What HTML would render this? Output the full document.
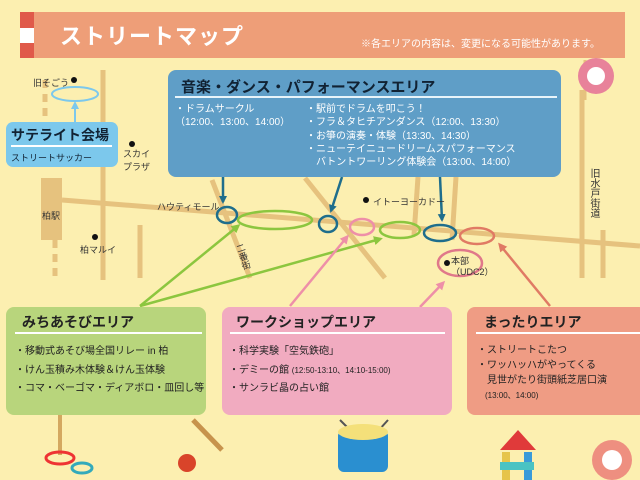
<!DOCTYPE html>
<html><head><meta charset="utf-8"><style>
body{margin:0;width:640px;height:480px;overflow:hidden;background:#fcefb0;font-family:"Liberation Sans","Noto Sans CJK JP",sans-serif;}
.a{position:absolute;white-space:nowrap}
</style></head><body>
<div style="position:relative;width:640px;height:480px">
<svg width="640" height="480" style="position:absolute;left:0;top:0">
<defs>
<marker id="mb" markerWidth="8" markerHeight="8" refX="6" refY="4" orient="auto" markerUnits="userSpaceOnUse"><path d="M0,0L8,4L0,8z" fill="#1f6e8c"/></marker>
<marker id="mg" markerWidth="9" markerHeight="9" refX="6" refY="4.5" orient="auto" markerUnits="userSpaceOnUse"><path d="M0,0L9,4.5L0,9z" fill="#8cc63f"/></marker>
<marker id="mp" markerWidth="9" markerHeight="9" refX="6" refY="4.5" orient="auto" markerUnits="userSpaceOnUse"><path d="M0,0L9,4.5L0,9z" fill="#ee8fa8"/></marker>
<marker id="mr" markerWidth="9" markerHeight="9" refX="6" refY="4.5" orient="auto" markerUnits="userSpaceOnUse"><path d="M0,0L9,4.5L0,9z" fill="#e07a64"/></marker>
<marker id="ml" markerWidth="8" markerHeight="8" refX="6" refY="4" orient="auto" markerUnits="userSpaceOnUse"><path d="M0,0L8,4L0,8z" fill="#7cc8ec"/></marker>
</defs>
<g stroke="#e6c27e" stroke-width="5" fill="none">
<line x1="62" y1="200" x2="640" y2="246"/>
<line x1="103" y1="70" x2="103" y2="280"/>
<line x1="140" y1="225" x2="140" y2="278"/>
<line x1="212" y1="180" x2="250" y2="278"/>
<line x1="305" y1="178" x2="385" y2="278"/>
<line x1="418" y1="177" x2="414" y2="235"/>
<line x1="456" y1="177" x2="452" y2="240"/>
<line x1="582" y1="90" x2="582" y2="278"/>
<line x1="603" y1="230" x2="603" y2="278"/>
<line x1="45" y1="80" x2="45" y2="120" stroke-dasharray="8 6"/>
<line x1="55" y1="240" x2="55" y2="280" stroke-dasharray="8 6"/>
</g>
<rect x="41" y="178" width="21" height="62" fill="#e6c27e"/>
<ellipse cx="75" cy="94" rx="23" ry="7" fill="none" stroke="#7cc8ec" stroke-width="2"/>
<line x1="75" y1="122" x2="75" y2="103" stroke="#7cc8ec" stroke-width="2" marker-end="url(#ml)"/>
<g fill="none" stroke-width="2.5">
<ellipse cx="227" cy="215" rx="10" ry="8" stroke="#1f6e8c"/>
<ellipse cx="275" cy="220" rx="37" ry="9" stroke="#8cc63f"/>
<ellipse cx="328" cy="224" rx="9" ry="8" stroke="#1f6e8c"/>
<ellipse cx="362" cy="227" rx="12" ry="8" stroke="#ee8fa8"/>
<ellipse cx="400" cy="230" rx="20" ry="8" stroke="#8cc63f"/>
<ellipse cx="440" cy="233" rx="16" ry="8" stroke="#1f6e8c"/>
<ellipse cx="477" cy="236" rx="17" ry="8" stroke="#e07a64"/>
<ellipse cx="460" cy="263" rx="22" ry="13" stroke="#e0788a"/>
</g>
<g stroke-width="2.5">
<line x1="223" y1="130" x2="223" y2="202" stroke="#1f6e8c" marker-end="url(#mb)"/>
<line x1="342" y1="177" x2="331" y2="211" stroke="#1f6e8c" marker-end="url(#mb)"/>
<line x1="440" y1="177" x2="442" y2="220" stroke="#1f6e8c" marker-end="url(#mb)"/>
<line x1="140" y1="306" x2="238" y2="226" stroke="#8cc63f" marker-end="url(#mg)"/>
<line x1="140" y1="306" x2="380" y2="239" stroke="#8cc63f" marker-end="url(#mg)"/>
<line x1="290" y1="306" x2="347" y2="237" stroke="#ee8fa8" marker-end="url(#mp)"/>
<line x1="420" y1="307" x2="443" y2="283" stroke="#ee8fa8" marker-end="url(#mp)"/>
<line x1="550" y1="306" x2="500" y2="245" stroke="#e07a64" marker-end="url(#mr)"/>
</g>
<circle cx="74" cy="80" r="3" fill="#111"/><circle cx="132" cy="144" r="3" fill="#111"/>
<circle cx="95" cy="237" r="3" fill="#111"/><circle cx="366" cy="200" r="3" fill="#111"/>
<circle cx="447" cy="263" r="3" fill="#111"/>
<line x1="585" y1="60" x2="585" y2="100" stroke="#e6c27e" stroke-width="3"/>
<circle cx="596" cy="76" r="18" fill="#e8829a"/><circle cx="596" cy="76" r="9" fill="#fff"/>
<circle cx="612" cy="460" r="20" fill="#ee8f80"/><circle cx="612" cy="460" r="10" fill="#fff"/>
<rect x="58" y="415" width="4" height="40" fill="#d4a860"/>
<ellipse cx="60" cy="458" rx="14" ry="6" fill="none" stroke="#e33" stroke-width="3"/>
<ellipse cx="82" cy="468" rx="10" ry="5" fill="none" stroke="#3ab" stroke-width="3"/>
<circle cx="187" cy="463" r="9" fill="#d9442a"/>
<line x1="193" y1="420" x2="222" y2="450" stroke="#c7934c" stroke-width="5"/>
<line x1="340" y1="420" x2="360" y2="440" stroke="#555" stroke-width="2"/><line x1="388" y1="420" x2="370" y2="440" stroke="#555" stroke-width="2"/>
<rect x="338" y="430" width="50" height="42" rx="6" fill="#2a8fd0"/><ellipse cx="363" cy="432" rx="25" ry="8" fill="#f4e07a"/>
<path d="M500 450L518 430L536 450z" fill="#e03a3a"/><rect x="502" y="452" width="8" height="28" fill="#e6c44a"/><rect x="524" y="452" width="8" height="28" fill="#3a9ad9"/><rect x="500" y="462" width="34" height="8" fill="#4ac3c3"/>
</svg>
<div class="a" style="left:20px;top:12px;width:605px;height:46px;background:#ee9e78"></div>
<div class="a" style="left:20px;top:12px;width:14px;height:46px;background:#e05a4a"></div>
<div class="a" style="left:20px;top:28px;width:14px;height:15px;background:#fff"></div>
<div class="a" style="left:60px;top:19px;font-size:22px;font-weight:bold;color:#fff;letter-spacing:1px">ストリートマップ</div>
<div class="a" style="left:361px;top:35px;font-size:10px;color:#fff">※各エリアの内容は、変更になる可能性があります。</div>
<div class="a" style="left:168px;top:70px;width:393px;height:107px;background:#5f9ec7;border-radius:8px"></div>
<div class="a" style="left:181px;top:76px;font-size:15px;font-weight:bold;color:#123">音楽・ダンス・パフォーマンスエリア</div>
<div class="a" style="left:175px;top:96px;width:382px;height:2px;background:#e8f4fa"></div>
<div class="a" style="left:175px;top:103px;font-size:10px;color:#fff;line-height:13px">・ドラムサークル<br>（12:00、13:00、14:00）</div>
<div class="a" style="left:306px;top:103px;font-size:10px;color:#fff;line-height:13.3px">・駅前でドラムを叩こう！<br>・フラ＆タヒチアンダンス（12:00、13:30）<br>・お箏の演奏・体験（13:30、14:30）<br>・ニューテイニュードリームスパフォーマンス<br>　バトントワーリング体験会（13:00、14:00）</div>
<div class="a" style="left:6px;top:122px;width:112px;height:45px;background:#7cc8ec;border-radius:7px"></div>
<div class="a" style="left:11px;top:125px;font-size:14px;font-weight:bold;color:#123">サテライト会場</div>
<div class="a" style="left:11px;top:145px;width:101px;height:2px;background:#fff"></div>
<div class="a" style="left:11px;top:151px;font-size:9px;color:#123">ストリートサッカー</div>
<div class="a" style="left:33px;top:76px;font-size:9px;color:#333">旧そごう</div>
<div class="a" style="left:123px;top:148px;font-size:9px;color:#333;line-height:13px">スカイ<br>プラザ</div>
<div class="a" style="left:42px;top:209px;font-size:9px;color:#333">柏駅</div>
<div class="a" style="left:80px;top:243px;font-size:9px;color:#333">柏マルイ</div>
<div class="a" style="left:157px;top:200px;font-size:9px;color:#333">ハウティモール</div>
<div class="a" style="left:373px;top:195px;font-size:9px;color:#333">イトーヨーカドー</div>
<div class="a" style="left:237px;top:243px;font-size:9px;color:#333;writing-mode:vertical-rl;transform:rotate(-18deg)">二番街</div>
<div class="a" style="left:451px;top:256px;font-size:9px;color:#333;line-height:11px">本部<br>（UDC2）</div>
<div class="a" style="left:586px;top:168px;font-size:10px;color:#333;writing-mode:vertical-rl">旧水戸街道</div>
<div class="a" style="left:6px;top:307px;width:200px;height:108px;background:#b8d57c;border-radius:8px"></div>
<div class="a" style="left:222px;top:307px;width:230px;height:108px;background:#f1abc0;border-radius:8px"></div>
<div class="a" style="left:467px;top:307px;width:180px;height:108px;background:#ef9c84;border-radius:8px"></div>
<div class="a" style="left:22px;top:312px;font-size:14px;font-weight:bold;color:#222">みちあそびエリア</div>
<div class="a" style="left:236px;top:312px;font-size:14px;font-weight:bold;color:#222">ワークショップエリア</div>
<div class="a" style="left:484px;top:312px;font-size:14px;font-weight:bold;color:#222">まったりエリア</div>
<div class="a" style="left:15px;top:332px;width:187px;height:2px;background:#fff"></div>
<div class="a" style="left:230px;top:332px;width:215px;height:2px;background:#fff"></div>
<div class="a" style="left:476px;top:332px;width:164px;height:2px;background:#fff"></div>
<div class="a" style="left:15px;top:343px;font-size:10px;color:#222;line-height:18.5px">・移動式あそび場全国リレー in 柏<br>・けん玉積み木体験＆けん玉体験<br>・コマ・ベーゴマ・ディアボロ・皿回し等</div>
<div class="a" style="left:229px;top:343px;font-size:10px;color:#222;line-height:18.5px">・科学実験「空気鉄砲」<br>・デミーの館 <span style="font-size:8px">(12:50-13:10、14:10-15:00)</span><br>・サンラビ晶の占い館</div>
<div class="a" style="left:477px;top:343px;font-size:10px;color:#222;line-height:15px">・ストリートこたつ<br>・ワッハッハがやってくる<br>　見世がたり街頭紙芝居口演<br><span style="font-size:8px">　(13:00、14:00)</span></div>
</div>
</body></html>
